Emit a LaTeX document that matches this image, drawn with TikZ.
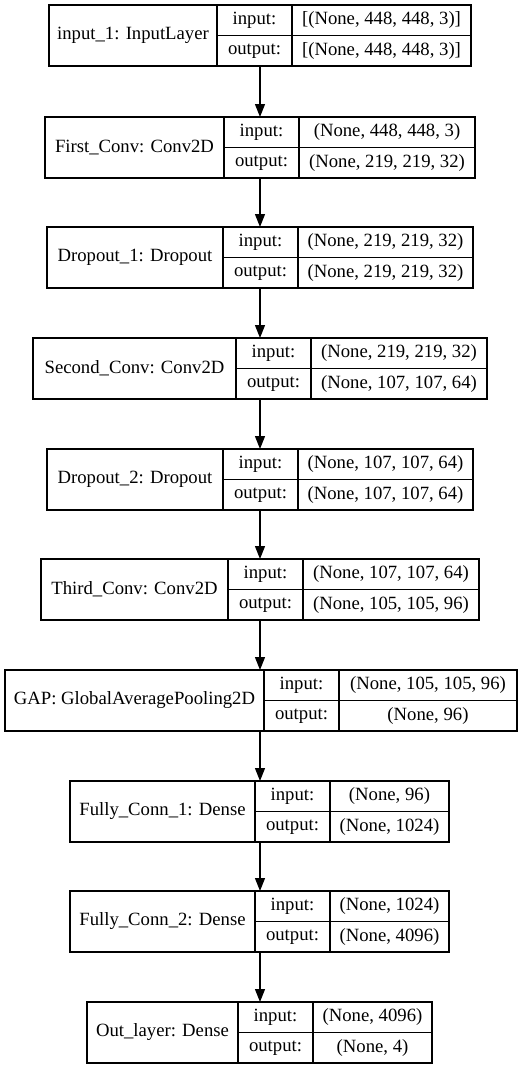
\documentclass[tikz,border=0pt]{standalone}
\usepackage{fontspec}
\setmainfont{Liberation Serif}
\usetikzlibrary{positioning, arrows.meta, fit}

\begin{document}
\begin{tikzpicture}[x=1pt, y=-1pt, font=\fontsize{18.7}{22}\selectfont]
    \tikzstyle{layer} = [rectangle, draw, line width=1.3pt, outer sep=0pt, inner sep=2pt, minimum height=61pt]
    \tikzstyle{cell} = [rectangle, draw, line width=1.3pt, outer sep=0pt, inner sep=2pt, minimum height=30.5pt]
    \tikzstyle{key} = [cell, minimum width=75pt]
    \tikzstyle{frame} = [inner sep=0pt, outer sep=0pt]
    \tikzstyle{arrow} = [line width=1.3pt, -{Triangle[length=13pt, width=10pt]}]

    \useasboundingbox (0,0) rectangle (520,1069);
    \coordinate (axis) at (260,0);

    % input layer
    \node [layer, minimum width=168pt, anchor=north west] (inp) at (49,5) {input\_1: InputLayer};
    \node [key, anchor=north west] (inpi) at (inp.north east) {input:};
    \node [key, below=0pt of inpi] (inpo) {output:};
    \node [cell, minimum width=179pt, right=0pt of inpi] (inpiv) {[(None, 448, 448, 3)]};
    \node [cell, minimum width=179pt, right=0pt of inpo] (inpov) {[(None, 448, 448, 3)]};
    \node [frame, fit=(inp)(inpiv)(inpov)] (inpbox) {};

    % first conv
    \node [layer, minimum width=179pt, anchor=north west] (conv1) at (45,117) {First\_Conv: Conv2D};
    \node [key, anchor=north west] (conv1i) at (conv1.north east) {input:};
    \node [key, below=0pt of conv1i] (conv1o) {output:};
    \node [cell, minimum width=176pt, right=0pt of conv1i] (conv1iv) {(None, 448, 448, 3)};
    \node [cell, minimum width=176pt, right=0pt of conv1o] (conv1ov) {(None, 219, 219, 32)};
    \node [frame, fit=(conv1)(conv1iv)(conv1ov)] (conv1box) {};

    % dropout 1
    \node [layer, minimum width=176pt, anchor=north west] (drop1) at (47,227) {Dropout\_1: Dropout};
    \node [key, anchor=north west] (drop1i) at (drop1.north east) {input:};
    \node [key, below=0pt of drop1i] (drop1o) {output:};
    \node [cell, minimum width=175pt, right=0pt of drop1i] (drop1iv) {(None, 219, 219, 32)};
    \node [cell, minimum width=175pt, right=0pt of drop1o] (drop1ov) {(None, 219, 219, 32)};
    \node [frame, fit=(drop1)(drop1iv)(drop1ov)] (drop1box) {};

    % second conv
    \node [layer, minimum width=203pt, anchor=north west] (conv2) at (33,338) {Second\_Conv: Conv2D};
    \node [key, anchor=north west] (conv2i) at (conv2.north east) {input:};
    \node [key, below=0pt of conv2i] (conv2o) {output:};
    \node [cell, minimum width=176pt, right=0pt of conv2i] (conv2iv) {(None, 219, 219, 32)};
    \node [cell, minimum width=176pt, right=0pt of conv2o] (conv2ov) {(None, 107, 107, 64)};
    \node [frame, fit=(conv2)(conv2iv)(conv2ov)] (conv2box) {};

    % dropout 2
    \node [layer, minimum width=176pt, anchor=north west] (drop2) at (47,449) {Dropout\_2: Dropout};
    \node [key, anchor=north west] (drop2i) at (drop2.north east) {input:};
    \node [key, below=0pt of drop2i] (drop2o) {output:};
    \node [cell, minimum width=175pt, right=0pt of drop2i] (drop2iv) {(None, 107, 107, 64)};
    \node [cell, minimum width=175pt, right=0pt of drop2o] (drop2ov) {(None, 107, 107, 64)};
    \node [frame, fit=(drop2)(drop2iv)(drop2ov)] (drop2box) {};

    % third conv
    \node [layer, minimum width=187pt, anchor=north west] (conv3) at (41,559) {Third\_Conv: Conv2D};
    \node [key, anchor=north west] (conv3i) at (conv3.north east) {input:};
    \node [key, below=0pt of conv3i] (conv3o) {output:};
    \node [cell, minimum width=176pt, right=0pt of conv3i] (conv3iv) {(None, 107, 107, 64)};
    \node [cell, minimum width=176pt, right=0pt of conv3o] (conv3ov) {(None, 105, 105, 96)};
    \node [frame, fit=(conv3)(conv3iv)(conv3ov)] (conv3box) {};

    % pooling
    \node [layer, minimum width=259pt, anchor=north west] (gap) at (5,670) {GAP: GlobalAveragePooling2D};
    \node [key, anchor=north west] (gapi) at (gap.north east) {input:};
    \node [key, below=0pt of gapi] (gapo) {output:};
    \node [cell, minimum width=178pt, right=0pt of gapi] (gapiv) {(None, 105, 105, 96)};
    \node [cell, minimum width=178pt, right=0pt of gapo] (gapov) {(None, 96)};
    \node [frame, fit=(gap)(gapiv)(gapov)] (gapbox) {};

    % dense layers
    \node [layer, minimum width=185pt, anchor=north west] (fc1) at (70,781) {Fully\_Conn\_1: Dense};
    \node [key, anchor=north west] (fc1i) at (fc1.north east) {input:};
    \node [key, below=0pt of fc1i] (fc1o) {output:};
    \node [cell, minimum width=119pt, right=0pt of fc1i] (fc1iv) {(None, 96)};
    \node [cell, minimum width=119pt, right=0pt of fc1o] (fc1ov) {(None, 1024)};
    \node [frame, fit=(fc1)(fc1iv)(fc1ov)] (fc1box) {};

    \node [layer, minimum width=185pt, anchor=north west] (fc2) at (70,891) {Fully\_Conn\_2: Dense};
    \node [key, anchor=north west] (fc2i) at (fc2.north east) {input:};
    \node [key, below=0pt of fc2i] (fc2o) {output:};
    \node [cell, minimum width=119pt, right=0pt of fc2i] (fc2iv) {(None, 1024)};
    \node [cell, minimum width=119pt, right=0pt of fc2o] (fc2ov) {(None, 4096)};
    \node [frame, fit=(fc2)(fc2iv)(fc2ov)] (fc2box) {};

    \node [layer, minimum width=151pt, anchor=north west] (outl) at (87,1002) {Out\_layer: Dense};
    \node [key, anchor=north west] (outli) at (outl.north east) {input:};
    \node [key, below=0pt of outli] (outlo) {output:};
    \node [cell, minimum width=119pt, right=0pt of outli] (outliv) {(None, 4096)};
    \node [cell, minimum width=119pt, right=0pt of outlo] (outlov) {(None, 4)};
    \node [frame, fit=(outl)(outliv)(outlov)] (outlbox) {};

    \draw [arrow] (inpbox.south -| axis) -- (conv1box.north -| axis);
    \draw [arrow] (conv1box.south -| axis) -- (drop1box.north -| axis);
    \draw [arrow] (drop1box.south -| axis) -- (conv2box.north -| axis);
    \draw [arrow] (conv2box.south -| axis) -- (drop2box.north -| axis);
    \draw [arrow] (drop2box.south -| axis) -- (conv3box.north -| axis);
    \draw [arrow] (conv3box.south -| axis) -- (gapbox.north -| axis);
    \draw [arrow] (gapbox.south -| axis) -- (fc1box.north -| axis);
    \draw [arrow] (fc1box.south -| axis) -- (fc2box.north -| axis);
    \draw [arrow] (fc2box.south -| axis) -- (outlbox.north -| axis);
\end{tikzpicture}
\end{document}
